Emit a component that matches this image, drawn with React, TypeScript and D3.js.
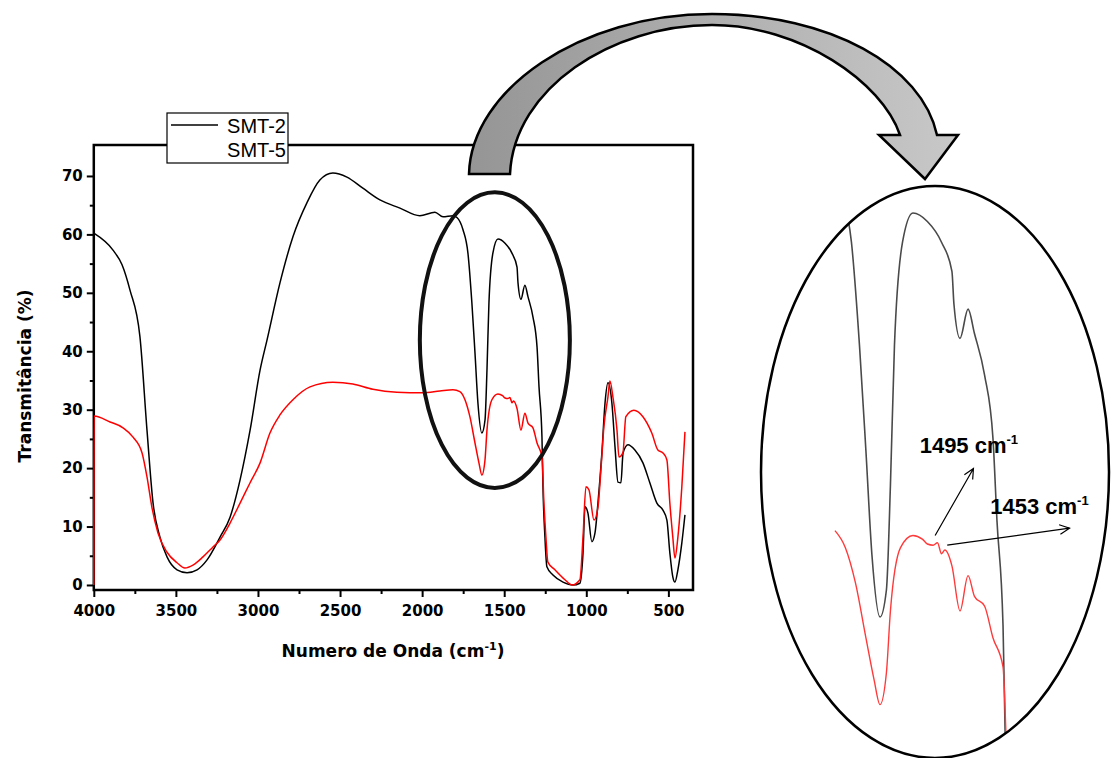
import React, { useEffect, useRef } from 'react';
import * as d3 from 'd3';

// SMT-2 (black) spectrum
const smt2Wave = [4000, 3883, 3828, 3780, 3719, 3676, 3639, 3597, 3554, 3493, 3432, 3371, 3310, 3231, 3170, 3109, 3048, 2987, 2945, 2866, 2787, 2702, 2623, 2544, 2458, 2361, 2257, 2135, 2014, 1922, 1873, 1812, 1788, 1751, 1721, 1697, 1678, 1660, 1636, 1617, 1605, 1593, 1569, 1538, 1495, 1453, 1422, 1416, 1398, 1374, 1355, 1325, 1300, 1288, 1270, 1264, 1252, 1240, 1203, 1142, 1081, 1039, 1020, 1008, 990, 966, 947, 929, 905, 886, 868, 844, 825, 807, 789, 776, 746, 704, 655, 613, 570, 533, 509, 491, 473, 460, 442, 418, 399];
const smt2Trans = [60.2, 57.3, 54.8, 50.5, 42.5, 26.5, 14.0, 8.2, 4.8, 2.6, 2.1, 2.6, 4.3, 8.2, 11.6, 18.0, 26.5, 36.8, 41.9, 51.7, 59.6, 65.4, 69.3, 70.5, 69.8, 67.9, 65.9, 64.5, 63.2, 63.8, 63.0, 63.2, 62.9, 60.8, 56.8, 48.3, 39.7, 31.1, 26.0, 28.2, 36.8, 48.3, 56.8, 59.2, 58.5, 56.8, 54.4, 51.7, 48.9, 51.3, 49.3, 45.9, 40.7, 33.9, 25.3, 16.8, 8.2, 3.1, 1.7, 0.5, 0.0, 0.3, 5.5, 13.4, 12.3, 7.4, 8.9, 14.0, 22.6, 31.1, 34.6, 31.1, 23.6, 17.6, 17.5, 22.6, 24.0, 23.1, 20.9, 17.5, 14.0, 12.8, 11.1, 5.5, 1.4, 0.5, 2.6, 7.2, 12.0];

// SMT-5 (red) spectrum
const smt5Wave = [4000, 3998, 3901, 3822, 3761, 3706, 3676, 3646, 3609, 3554, 3493, 3445, 3396, 3335, 3274, 3231, 3170, 3109, 3048, 2987, 2927, 2866, 2787, 2683, 2544, 2422, 2300, 2154, 1995, 1892, 1812, 1770, 1739, 1709, 1678, 1654, 1636, 1617, 1605, 1575, 1538, 1510, 1495, 1478, 1465, 1453, 1443, 1422, 1398, 1374, 1355, 1325, 1300, 1270, 1258, 1246, 1234, 1191, 1130, 1087, 1039, 1020, 1002, 984, 953, 929, 911, 893, 868, 856, 838, 813, 801, 777, 759, 710, 655, 601, 564, 533, 509, 491, 473, 460, 442, 418, 399];
const smt5Trans = [0.0, 28.9, 27.9, 26.9, 25.3, 22.6, 18.5, 13.3, 8.9, 5.6, 3.8, 2.9, 3.4, 4.8, 6.5, 7.7, 10.6, 14.0, 17.5, 20.9, 26.0, 29.1, 31.7, 33.9, 34.7, 34.4, 33.5, 33.0, 32.9, 33.2, 33.4, 33.1, 31.7, 28.8, 24.3, 20.9, 18.8, 21.4, 26.5, 31.7, 32.7, 32.4, 32.0, 31.9, 32.1, 31.2, 31.5, 30.2, 26.5, 29.4, 27.7, 26.9, 24.3, 21.9, 14.0, 8.2, 3.9, 2.6, 0.9, 0.0, 0.9, 8.2, 16.8, 16.3, 11.1, 13.3, 19.7, 27.0, 32.2, 34.9, 32.2, 26.5, 21.9, 22.6, 28.8, 29.9, 28.8, 26.0, 23.1, 22.6, 21.4, 14.0, 8.2, 4.6, 8.2, 16.8, 26.2];

const seriesNames = ['SMT-2', 'SMT-5'];
const xTicks = [4000, 3500, 3000, 2500, 2000, 1500, 1000, 500];
const xMinor = [3750, 3250, 2750, 2250, 1750, 1250, 750];
const yTicks = [0, 10, 20, 30, 40, 50, 60, 70];
const yMinor = [5, 15, 25, 35, 45, 55, 65];
const peakLabels = ['1495', '1453'];
// arrow start / end in (cm-1, %) of the zoomed view
const peakArrowFrom = [[1472, 32.7], [1436, 31.9]];
const peakArrowTo = [[1358, 38.2], [1072, 33.3]];
const peakTextAt = [[1518, 39.5], [1308, 34.5]];

export default function App() {
  const ref = useRef<SVGSVGElement>(null);

  useEffect(() => {
    const svg = d3.select(ref.current);
    svg.selectAll('*').remove();

    const x = d3.scaleLinear().domain([4000, 350]).range([93.8, 693]);
    const y = d3.scaleLinear().domain([-0.86, 75.3]).range([590, 145]);

    const s2 = smt2Wave.map((w, i) => [w, smt2Trans[i]] as [number, number]);
    const s5 = smt5Wave.map((w, i) => [w, smt5Trans[i]] as [number, number]);

    const defs = svg.append('defs');
    const grad = defs.append('linearGradient').attr('id', 'arrowGrad')
      .attr('x1', '0%').attr('x2', '100%').attr('y1', '0%').attr('y2', '0%');
    grad.append('stop').attr('offset', '0%').attr('stop-color', '#959595');
    grad.append('stop').attr('offset', '100%').attr('stop-color', '#c8c8c8');
    defs.append('clipPath').attr('id', 'insetClip')
      .append('ellipse').attr('cx', 935).attr('cy', 472).attr('rx', 174).attr('ry', 286);

    // axes
    const fmt = d3.format('d');
    const bottom = svg.append('g').attr('transform', 'translate(0,590)');
    bottom.call(d3.axisBottom(x).tickValues(xTicks).tickFormat(d => fmt(d as number)).tickSize(7).tickPadding(8).tickSizeOuter(0));
    bottom.append('g').call(d3.axisBottom(x).tickValues(xMinor).tickSize(4).tickFormat(() => '').tickSizeOuter(0));
    const left = svg.append('g').attr('transform', 'translate(93.8,0)');
    left.call(d3.axisLeft(y).tickValues(yTicks).tickFormat(d => fmt(d as number)).tickSize(7).tickPadding(4).tickSizeOuter(0));
    left.append('g').call(d3.axisLeft(y).tickValues(yMinor).tickSize(4).tickFormat(() => '').tickSizeOuter(0));
    svg.selectAll('.domain').remove();
    svg.selectAll('.tick line').attr('stroke', '#000').attr('stroke-width', 2);
    svg.selectAll('.tick text')
      .attr('font-family', 'DejaVu Sans, sans-serif').attr('font-weight', 'bold')
      .attr('font-size', 15).attr('fill', '#000');

    // frame
    svg.append('rect').attr('x', 93.8).attr('y', 145).attr('width', 693 - 93.8).attr('height', 445)
      .attr('fill', 'none').attr('stroke', '#000').attr('stroke-width', 2.5);

    const line = d3.line<[number, number]>().x(d => x(d[0])).y(d => y(d[1])).curve(d3.curveMonotoneX);
    svg.append('path').datum(s2).attr('d', line).attr('fill', 'none')
      .attr('stroke', '#000').attr('stroke-width', 1.5);
    svg.append('path').datum(s5).attr('d', line).attr('fill', 'none')
      .attr('stroke', '#ff0000').attr('stroke-width', 1.5);

    // axis titles
    const xt = svg.append('text').attr('x', 393).attr('y', 657).attr('text-anchor', 'middle')
      .attr('font-family', 'DejaVu Sans, sans-serif').attr('font-weight', 'bold').attr('font-size', 17);
    xt.append('tspan').text('Numero de Onda (cm');
    xt.append('tspan').attr('font-size', 11).attr('dy', -7).text('-1');
    xt.append('tspan').attr('dy', 7).text(')');
    svg.append('text').attr('transform', 'translate(31,376) rotate(-90)').attr('text-anchor', 'middle')
      .attr('font-family', 'DejaVu Sans, sans-serif').attr('font-weight', 'bold').attr('font-size', 17)
      .text('Transmitância (%)');

    // legend
    const lg = svg.append('g');
    lg.append('rect').attr('x', 167).attr('y', 113).attr('width', 121).attr('height', 50)
      .attr('fill', '#fff').attr('stroke', '#000').attr('stroke-width', 1.2);
    lg.append('line').attr('x1', 171).attr('x2', 218).attr('y1', 125).attr('y2', 125)
      .attr('stroke', '#000').attr('stroke-width', 1.5);
    seriesNames.forEach((n, i) => {
      lg.append('text').attr('x', 286).attr('y', 133 + i * 24).attr('text-anchor', 'end')
        .attr('font-family', 'Liberation Sans, Arial, sans-serif').attr('font-size', 20).text(n);
    });

    // highlight ellipse on the main plot
    svg.append('ellipse').attr('cx', x(1557)).attr('cy', y(41.9))
      .attr('rx', x(4000 - 457) - x(4000)).attr('ry', y(0) - y(25.3))
      .attr('fill', 'none').attr('stroke', '#111').attr('stroke-width', 4);

    // curved arrow
    svg.append('path')
      .attr('d', 'M469,174 C471,90 580,14 712,14 C830,14 922,66 937,135 L958,135 L925,179 L879,135 L900,135 C882,82 800,25 712,25 C612,25 514,88 510,174 Z')
      .attr('fill', 'url(#arrowGrad)').attr('stroke', '#000').attr('stroke-width', 2.5)
      .attr('stroke-linejoin', 'miter');

    // zoomed view
    const xi = d3.scaleLinear().domain([1636, 1398]).range([880, 960]);
    const yi = d3.scaleLinear().domain([26, 59.2]).range([617, 213]);
    const lineI = d3.line<[number, number]>().x(d => xi(d[0])).y(d => yi(d[1])).curve(d3.curveMonotoneX);
    const inset = svg.append('g').attr('clip-path', 'url(#insetClip)');
    inset.append('path').datum(s2.filter(d => d[0] <= 1900 && d[0] >= 1200)).attr('d', lineI)
      .attr('fill', 'none').attr('stroke', '#4a4a4a').attr('stroke-width', 1.6);
    inset.append('path').datum(s5.filter(d => d[0] <= 1770 && d[0] >= 1200)).attr('d', lineI)
      .attr('fill', 'none').attr('stroke', '#ff3a3a').attr('stroke-width', 1.4);
    svg.append('ellipse').attr('cx', 935).attr('cy', 472).attr('rx', 174).attr('ry', 286)
      .attr('fill', 'none').attr('stroke', '#000').attr('stroke-width', 2.5);

    // peak annotations
    peakLabels.forEach((p, i) => {
      const [x0, y0] = [xi(peakArrowFrom[i][0]), yi(peakArrowFrom[i][1])];
      const [x1, y1] = [xi(peakArrowTo[i][0]), yi(peakArrowTo[i][1])];
      const a = Math.atan2(y1 - y0, x1 - x0);
      const h = 11;
      svg.append('path')
        .attr('d', `M${x0},${y0} L${x1},${y1} M${x1 - h * Math.cos(a - 0.45)},${y1 - h * Math.sin(a - 0.45)} L${x1},${y1} L${x1 - h * Math.cos(a + 0.45)},${y1 - h * Math.sin(a + 0.45)}`)
        .attr('fill', 'none').attr('stroke', '#000').attr('stroke-width', 1.2);
      const t = svg.append('text').attr('x', xi(peakTextAt[i][0])).attr('y', yi(peakTextAt[i][1]))
        .attr('font-family', 'Liberation Sans, Arial, sans-serif').attr('font-weight', 'bold').attr('font-size', 22);
      t.append('tspan').text(p + ' cm');
      t.append('tspan').attr('font-size', 13).attr('dy', -9).text('-1');
    });
  }, []);

  return (
    <svg ref={ref} width={1113} height={758} style={{ position: 'absolute', left: 0, top: 0, background: '#fff' }} />
  );
}
